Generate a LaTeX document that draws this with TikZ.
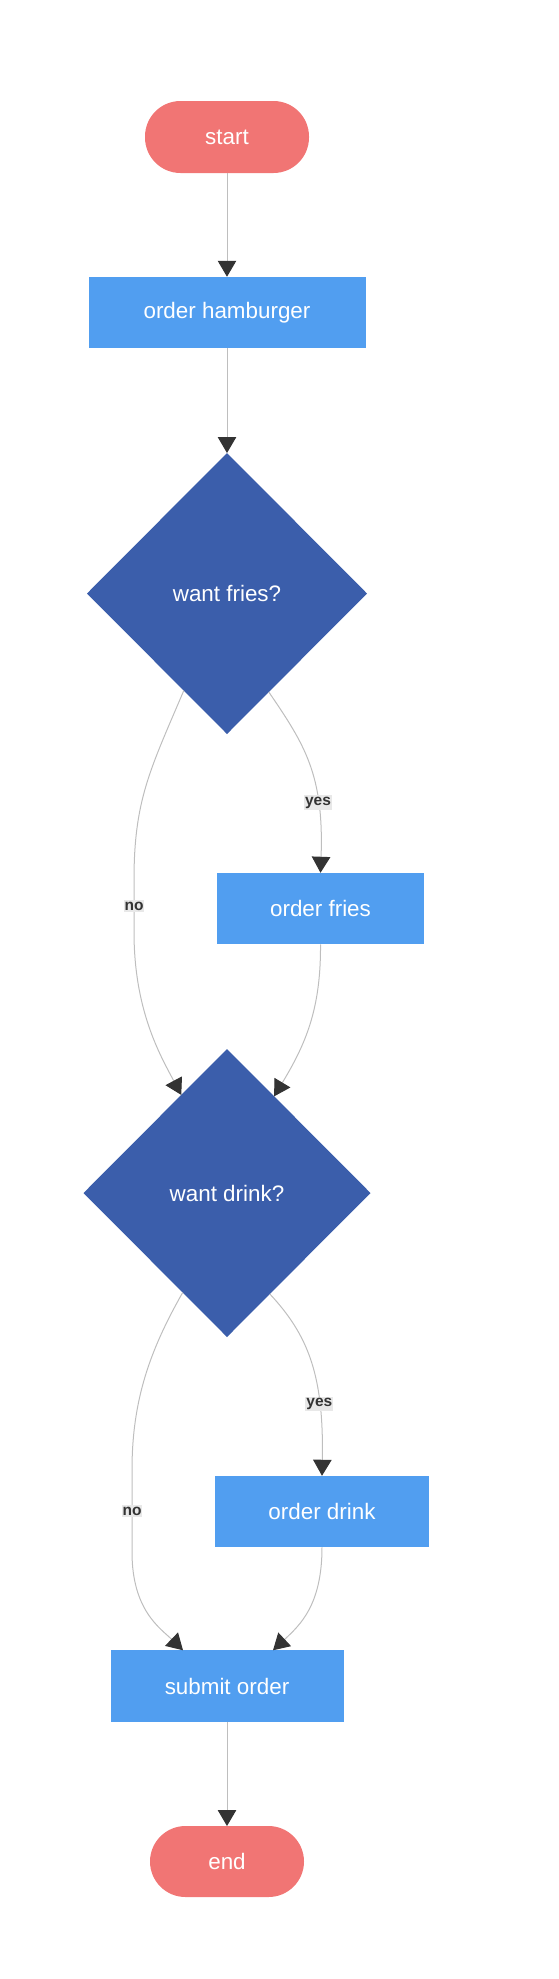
\documentclass[tikz,border=0pt]{standalone}
\usepackage{fontspec}
\setmainfont{Liberation Sans}
\usetikzlibrary{shapes.geometric,arrows.meta}
\definecolor{pillc}{RGB}{241,117,116}
\definecolor{boxc}{RGB}{81,158,240}
\definecolor{decc}{RGB}{59,94,171}
\definecolor{edgec}{RGB}{190,190,190}
\definecolor{tipc}{RGB}{51,51,51}
\definecolor{lblbg}{RGB}{232,232,232}
\definecolor{lbltext}{RGB}{51,51,51}
\begin{document}
\begin{tikzpicture}[x=1pt,y=-1pt,
 every node/.style={inner sep=0pt, outer sep=0pt},
 nodetext/.style={text=white,font=\fontsize{22.4pt}{26pt}\selectfont},
 terminal/.style={nodetext,fill=pillc,rectangle,rounded corners=35.5pt},
 procbox/.style={nodetext,fill=boxc,rectangle,minimum height=71.5pt},
 decision/.style={nodetext,fill=decc,diamond,aspect=1},
 flow/.style={draw=edgec,line width=1pt,-{Triangle[length=16pt,width=18.5pt,color=tipc]}},
 lbl/.style={fill=lblbg,text=lbltext,font=\bfseries\fontsize{15.5pt}{18pt}\selectfont,inner xsep=1pt,inner ysep=1.5pt}
]
\useasboundingbox (0,0) rectangle (559,1979);
\node[terminal,minimum width=164pt,minimum height=72pt] (start) at (227,137) {start};
\node[procbox,minimum width=277pt] (ham) at (227,312.5) {order hamburger};
\node[decision,minimum width=280pt,minimum height=281pt] (d1) at (227,593.5) {want fries?};
\node[procbox,minimum width=207pt] (fries) at (320.5,908.5) {order fries};
\node[decision,minimum width=287pt,minimum height=288pt] (d2) at (227,1193) {want drink?};
\node[procbox,minimum width=214pt] (drink) at (322,1511.5) {order drink};
\node[procbox,minimum width=233pt] (submit) at (227,1686) {submit order};
\node[terminal,minimum width=154pt,minimum height=71pt] (end) at (227,1861.5) {end};

\draw[flow] (start.south) -- (ham.north);
\draw[flow] (ham.south) -- (d1.north);
\draw[flow] (d1.246.7) .. controls (150,770) and (134,800) .. (134,880)
  -- node[lbl]{no} (134,932) .. controls (134,1010) and (160,1055) .. (d2.115.6);
\draw[flow] (d1.293.7) .. controls (305,745) and (324,775) .. (fries.north)
  node[lbl,pos=0.71]{yes};
\draw[flow] (fries.south) .. controls (321,1010) and (305,1045) .. (d2.64);
\draw[flow] (d2.246.7) .. controls (150,1350) and (132,1400) .. (132,1470)
  -- node[lbl]{no} (132,1552) .. controls (132,1610) and (160,1628) .. ([xshift=-44pt]submit.north);
\draw[flow] (d2.293.3) .. controls (308,1335) and (324,1375) .. (drink.north)
  node[lbl,pos=0.72]{yes};
\draw[flow] (drink.south) .. controls (322,1605) and (300,1625) .. ([xshift=46pt]submit.north);
\draw[flow] (submit.south) -- (end.north);
\end{tikzpicture}
\end{document}
